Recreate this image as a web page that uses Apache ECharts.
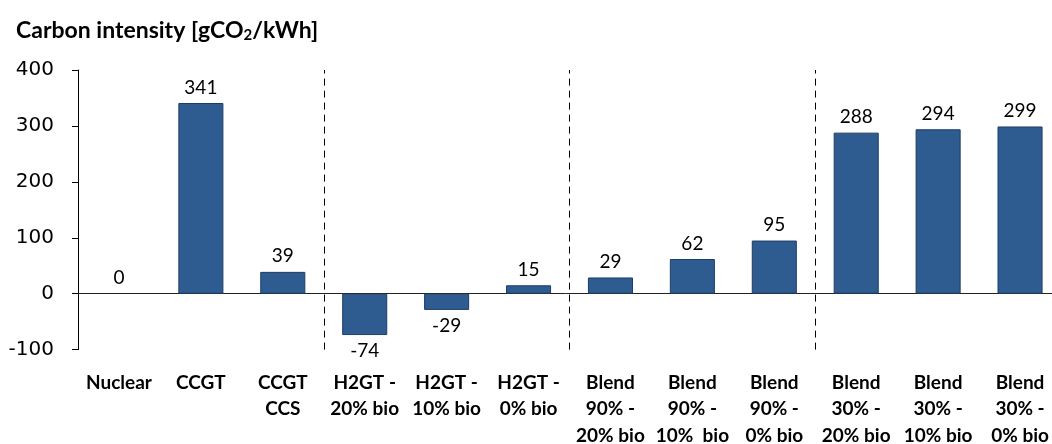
<!DOCTYPE html>
<html><head><meta charset="utf-8">
<script src="https://cdn.jsdelivr.net/npm/echarts@6/dist/echarts.min.js"></script>
<style>html,body{margin:0;padding:0;background:#fff;overflow:hidden}#c{width:1052px;height:444px}</style>
</head><body><div id="c"></div>
<script>
const categories = ['Nuclear','CCGT','CCGT\nCCS','H2GT -\n20% bio','H2GT -\n10% bio','H2GT -\n0% bio','Blend\n90% -\n20% bio','Blend\n90% -\n10%  bio','Blend\n90% -\n0% bio','Blend\n30% -\n20% bio','Blend\n30% -\n10% bio','Blend\n30% -\n0% bio'];
const values = [0, 341, 39, -74, -29, 15, 29, 62, 95, 288, 294, 299];
const groupDividers = [3, 6, 9];
const yTicks = [-100, 0, 100, 200, 300, 400];

const chart = echarts.init(document.getElementById('c'), null, {renderer:'canvas', width:1052, height:444});
chart.setOption({
  animation:false,
  title:{
    text:'{t|Carbon intensity [gCO}{s|2}{t|/kWh]}',
    left:11, top:14,
    textStyle:{rich:{
      t:{fontFamily:'Lato', fontWeight:'bold', fontSize:23, color:'#000'},
      s:{fontFamily:'Lato', fontWeight:'bold', fontSize:15, color:'#000', verticalAlign:'bottom', padding:[9,0,0,0]}
    }}
  },
  grid:{left:78, right:-9, top:70, bottom:94.4, containLabel:false, outerBoundsMode:'none'},
  xAxis:[{
    type:'category', data:categories,
    axisLine:{onZero:true, lineStyle:{color:'#222', width:1}},
    axisTick:{show:false},
    axisLabel:{interval:0, margin:20, fontFamily:'Lato', fontWeight:'bold', fontSize:19, color:'#000', lineHeight:26.5, verticalAlign:'top'}
  },{
    type:'value', min:0, max:12, show:false
  }],
  yAxis:{
    type:'value', min:yTicks[0], max:yTicks[yTicks.length-1], interval:100,
    axisLine:{show:true, lineStyle:{color:'#000', width:1}},
    axisTick:{show:true, length:6, lineStyle:{color:'#000'}},
    splitLine:{show:false},
    axisLabel:{margin:24, fontFamily:'DejaVu Sans', fontSize:20, color:'#000'}
  },
  series:[{
    type:'bar',
    data:values.map(v=>({value:v, label:{position: v<0 ? 'bottom':'top'}, itemStyle: v===0 ? {borderWidth:0} : {}})),
    barWidth:'55%',
    itemStyle:{color:'#2E5C91', borderColor:'#1E3D63', borderWidth:1},
    label:{show:true, distance:6, fontFamily:'Lato', fontSize:19, color:'#000'}
  },{
    type:'scatter', xAxisIndex:1, data:[], silent:true,
    markLine:{
      symbol:'none', silent:true, label:{show:false},
      lineStyle:{type:[7,5], color:'#000', width:1},
      data: groupDividers.map(d=>({xAxis:d}))
    }
  }]
});
</script></body></html>
